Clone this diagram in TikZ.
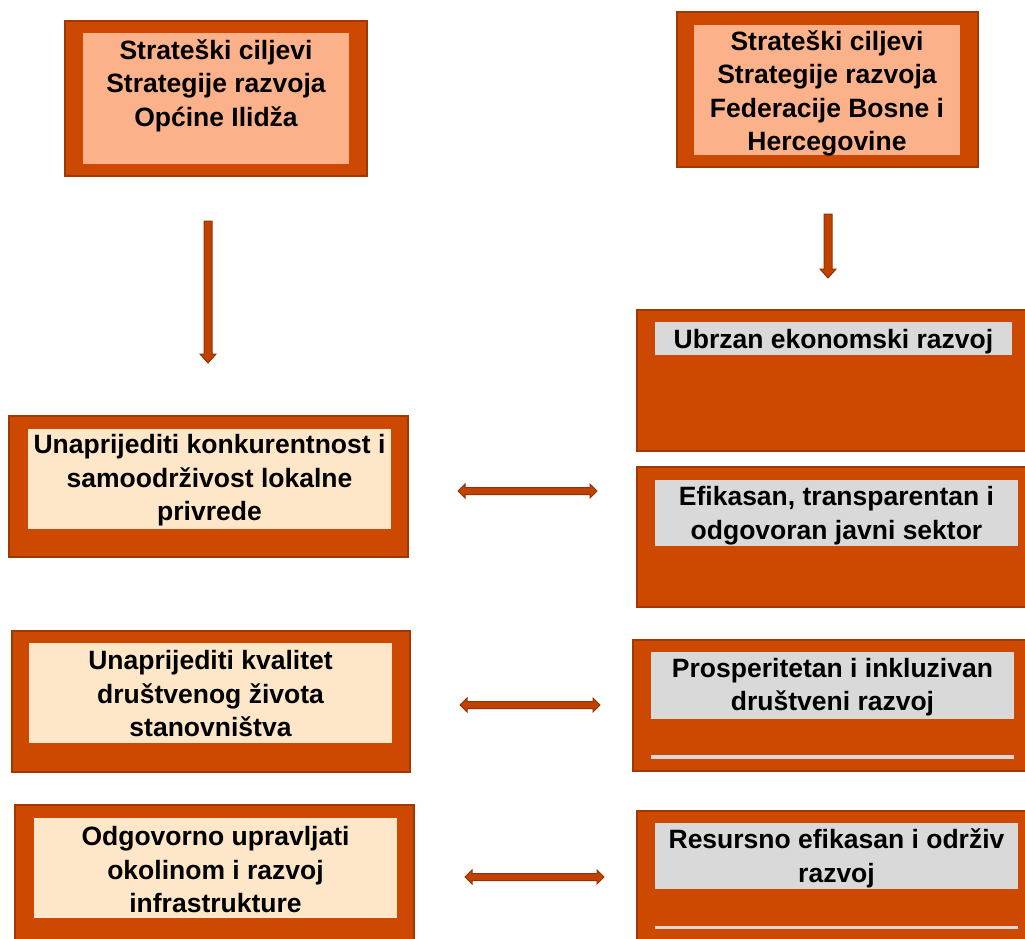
\documentclass[tikz,border=0pt]{standalone}
\usepackage{fontspec}
\setmainfont{Liberation Sans}
\usetikzlibrary{calc}
\definecolor{boxorange}{RGB}{205,72,0}
\definecolor{boxedge}{RGB}{160,56,0}
\definecolor{peachfill}{RGB}{251,177,137}
\definecolor{creamfill}{RGB}{254,230,200}
\definecolor{greyc}{RGB}{217,217,217}
\definecolor{arrowfill}{RGB}{192,66,0}
\definecolor{arrowedge}{RGB}{150,48,0}
\tikzset{
  plainrect/.style={rectangle, inner sep=0pt, outer sep=0pt},
  outerbox/.style={plainrect, draw=boxedge, line width=2pt, fill=boxorange},
  peachbox/.style={plainrect, fill=peachfill},
  creambox/.style={plainrect, fill=creamfill},
  greybox/.style={plainrect, fill=greyc},
  boxlabel/.style={font=\fontsize{26.5}{33.5}\selectfont\bfseries, align=center, inner sep=0pt, text=black},
  blockarrow/.style={fill=arrowfill, draw=arrowedge, line width=1pt, line join=miter},
}
\newcommand\rectnode[6]{\node[#2, minimum width={#5-#3}, minimum height={#6-#4}] (#1) at ({(#3+#5)/2},{(#4+#6)/2}) {};}
% horizontal double block arrow between two named coordinates (tips)
\newcommand\hdblarrow[2]{\filldraw[blockarrow] (#1) -- ($(#1)+(7,7)$) -- ($(#1)+(7,3.5)$) -- ($(#2)+(-7,3.5)$) -- ($(#2)+(-7,7)$) -- (#2) -- ($(#2)+(-7,-7)$) -- ($(#2)+(-7,-3.5)$) -- ($(#1)+(7,-3.5)$) -- ($(#1)+(7,-7)$) -- cycle;}
% vertical down block arrow from #1 (tail) to #2 (tip)
\newcommand\vdownarrow[2]{\filldraw[blockarrow] ($(#1)+(-4,0)$) -- ($(#2)+(-4,-9)$) -- ($(#2)+(-8,-9)$) -- (#2) -- ($(#2)+(8,-9)$) -- ($(#2)+(4,-9)$) -- ($(#1)+(4,0)$) -- cycle;}
\begin{document}
\begin{tikzpicture}[x=1pt,y=-1pt]
\useasboundingbox (0,0) rectangle (1025,939);
\clip (0,0) rectangle (1025,939);
% top boxes
\rectnode{tlo}{outerbox}{65}{21}{367}{176}
\rectnode{tli}{peachbox}{83}{33}{349}{164}
\node[boxlabel] (tlt) at (216,85.5) {Strateški ciljevi\\Strategije razvoja\\Općine Ilidža};
\rectnode{tro}{outerbox}{677}{12}{978}{167}
\rectnode{tri}{peachbox}{694}{25}{960}{155}
\node[boxlabel] (trt) at (827,93.5) {Strateški ciljevi\\Strategije razvoja\\Federacije Bosne i\\Hercegovine};
% left column
\rectnode{l1o}{outerbox}{9}{416}{408}{557}
\rectnode{l1i}{creambox}{28}{429}{391}{529}
\node[boxlabel] (l1t) at (209.5,480.5) {Unaprijediti konkurentnost i\\samoodrživost lokalne\\privrede};
\rectnode{l2o}{outerbox}{12}{631}{410}{772}
\rectnode{l2i}{creambox}{29}{643}{392}{743}
\node[boxlabel] (l2t) at (210.5,694) {Unaprijediti kvalitet\\društvenog života\\stanovništva};
\rectnode{l3o}{outerbox}{15}{805}{414}{960}
\rectnode{l3i}{creambox}{34}{818}{397}{918}
\node[boxlabel] (l3t) at (215.5,870) {Odgovorno upravljati\\okolinom i razvoj\\infrastrukture};
% right column
\rectnode{r1o}{outerbox}{637}{310}{1040}{451}
\rectnode{r1i}{greybox}{655}{322}{1012}{355}
\node[boxlabel] (r1t) at (833.5,341.5) {Ubrzan ekonomski razvoj};
\rectnode{r2o}{outerbox}{637}{467}{1040}{607}
\rectnode{r2i}{greybox}{655}{480}{1018}{546}
\node[boxlabel] (r2t) at (836.5,515.5) {Efikasan, transparentan i\\odgovoran javni sektor};
\rectnode{r3o}{outerbox}{633}{640}{1040}{771}
\rectnode{r3i}{greybox}{651}{652}{1014}{719}
\rectnode{r3l}{greybox}{651}{755}{1014}{759}
\node[boxlabel] (r3t) at (832.5,687) {Prosperitetan i inkluzivan\\društveni razvoj};
\rectnode{r4o}{outerbox}{637}{811}{1040}{960}
\rectnode{r4i}{greybox}{655}{823}{1018}{889}
\rectnode{r4l}{greybox}{655}{926}{1018}{929}
\node[boxlabel] (r4t) at (836.5,858.5) {Resursno efikasan i održiv\\razvoj};
% arrow end points
\coordinate (v1s) at (208,221);
\coordinate (v1e) at (208,363);
\coordinate (v2s) at (828,214);
\coordinate (v2e) at (828,278);
\coordinate (h1s) at (458,491);
\coordinate (h1e) at (597,491);
\coordinate (h2s) at (460,705);
\coordinate (h2e) at (600,705);
\coordinate (h3s) at (465,877);
\coordinate (h3e) at (604,877);
\vdownarrow{v1s}{v1e}
\vdownarrow{v2s}{v2e}
\hdblarrow{h1s}{h1e}
\hdblarrow{h2s}{h2e}
\hdblarrow{h3s}{h3e}
\end{tikzpicture}
\end{document}
